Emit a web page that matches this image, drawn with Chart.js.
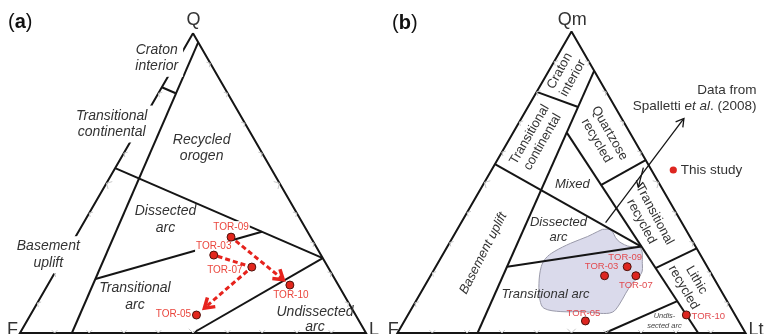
<!DOCTYPE html>
<html>
<head>
<meta charset="utf-8">
<script src="https://cdn.jsdelivr.net/npm/chart.js@4.4.1/dist/chart.umd.min.js"></script>
<style>
  html, body { margin: 0; padding: 0; background: #fff; }
  #wrap { position: relative; width: 764px; height: 334px; overflow: hidden; }
  canvas { position: absolute; top: 0; }
  #qfl { left: 0; }
  #qmflt { left: 382px; }
</style>
</head>
<body>
<div id="wrap">
  <canvas id="qfl" width="382" height="334"></canvas>
  <canvas id="qmflt" width="382" height="334"></canvas>
</div>
<script>
// ---- data ----------------------------------------------------------------
const samples = ['TOR-03', 'TOR-05', 'TOR-07', 'TOR-09', 'TOR-10'];

// QFL composition (%)
const qflQ = [26, 6, 22, 32, 16];
const qflF = [31, 46, 22, 23, 14];
const qflL = [43, 48, 56, 45, 70];

// QmFLt composition (%)
const qmQm = [19, 4, 19, 22, 6];
const qmF  = [31, 44, 22, 23, 14];
const qmLt = [50, 52, 59, 55, 80];

// outline of the Spalletti et al. (2008) field, QmFLt (%)
const spalQm = [34.4, 34.2, 30.9, 28.9, 28.1, 23.1, 19.8, 16.5, 13.2, 9.3, 6.9, 6.5,
                7.1, 7.1, 8.2, 10.9, 16.5, 22.0, 24.8, 27.0, 29.8, 32.0, 33.6];
const spalLt = [41.7, 44.2, 47.7, 51.6, 55.8, 58.8, 60.2, 59.2, 59.0, 59.0, 58.3, 55.1,
                50.1, 43.4, 38.0, 35.5, 32.4, 30.3, 30.2, 31.5, 34.9, 38.6, 40.6];

// provenance field boundaries (Dickinson), vertices as [top, F, right] in %
const qflFields = [
  [[100, 0, 0], [0, 100, 0], [0, 0, 100], [100, 0, 0]],
  [[97, 0, 3], [0, 85, 15]],
  [[82, 18, 0], [80, 15, 5]],
  [[55, 45, 0], [25, 0, 75]],
  [[18, 69.2, 12.8], [33.8, 13.2, 53]],
  [[0, 50, 50], [25, 0, 75]]
];
const qmfltFields = [
  [[100, 0, 0], [0, 100, 0], [0, 0, 100], [100, 0, 0]],
  [[87, 0, 13], [0, 77, 23]],
  [[80, 20, 0], [75, 10.6, 14.4]],
  [[56, 44, 0], [28.7, 15.6, 55.7]],
  [[66.5, 18.1, 15.4], [0, 13.6, 86.4]],
  [[49.1, 17, 33.9], [57.4, 0, 42.6]],
  [[21.5, 15.1, 63.4], [28.1, 0, 71.9]],
  [[22, 57.5, 20.5], [28.7, 15.6, 55.7]],
  [[0, 40.4, 59.6], [10.6, 14.3, 75.1]]
];

// trend between samples on the QFL plot: from, to, arrowhead
const qflTrend = [['TOR-09', 'TOR-10', true], ['TOR-03', 'TOR-07', false], ['TOR-07', 'TOR-05', true]];

// pointers from the Spalletti field to its caption, [Qm, Lt] ends
const spalPointers = [[[36.6, 41.5], [71.2, 46.7]], [[54.9, 43.2], [48.4, 45.0]]];

// edge ticks (%)
const tickSteps = [10, 20, 30, 40, 50, 60, 70, 80, 90];

// ---- helpers -------------------------------------------------------------
const R3 = Math.sqrt(3) / 2;
function tern(top, right) { return { x: right + top / 2, y: top * R3 }; }

const FONT = '"Liberation Sans", Arial, sans-serif';
function fnt(size, style) { return (style ? style + ' ' : '') + size + 'px ' + FONT; }

function pix(chart, p) {
  return { x: chart.scales.x.getPixelForValue(p.x), y: chart.scales.y.getPixelForValue(p.y) };
}

function drawLabel(chart, t) {
  const ctx = chart.ctx;
  const c = pix(chart, { x: t.at[0], y: t.at[1] });
  ctx.save();
  ctx.translate(c.x, c.y);
  if (t.rot) ctx.rotate(t.rot * Math.PI / 180);
  ctx.textBaseline = t.base || 'middle';
  ctx.fillStyle = t.color || '#333';
  if (t.runs) {
    let w = 0;
    t.runs.forEach(r => { ctx.font = r[1]; w += ctx.measureText(r[0]).width; });
    let x = t.align === 'right' ? -w : 0;
    ctx.textAlign = 'left';
    t.runs.forEach(r => { ctx.font = r[1]; ctx.fillText(r[0], x, 0); x += ctx.measureText(r[0]).width; });
    ctx.restore();
    return;
  }
  const lines = t.text.split('\n');
  const lh = t.lh || 16;
  ctx.font = t.font;
  ctx.textAlign = t.align || 'center';
  if (t.bg) {
    const w = Math.max(...lines.map(s => ctx.measureText(s).width));
    const h = lines.length * lh;
    ctx.fillStyle = '#fff';
    ctx.fillRect(-w / 2 - t.bg[0], -h / 2 - t.bg[1], w + 2 * t.bg[0], h + 2 * t.bg[1]);
    ctx.fillStyle = t.color || '#333';
  }
  lines.forEach((s, i) => ctx.fillText(s, 0, (i - (lines.length - 1) / 2) * lh));
  ctx.restore();
}

function drawArrow(ctx, a, b, o) {
  const dx = b.x - a.x, dy = b.y - a.y, len = Math.hypot(dx, dy);
  const ux = dx / len, uy = dy / len;
  const s = { x: a.x + ux * o.gap0, y: a.y + uy * o.gap0 };
  const e = { x: b.x - ux * o.gap1, y: b.y - uy * o.gap1 };
  ctx.save();
  ctx.strokeStyle = o.color;
  ctx.lineWidth = o.width;
  ctx.setLineDash(o.dash || []);
  ctx.beginPath(); ctx.moveTo(s.x, s.y); ctx.lineTo(e.x, e.y); ctx.stroke();
  if (o.head) {
    ctx.setLineDash([]);
    ctx.lineWidth = o.headWidth;
    ctx.lineJoin = 'miter';
    const ang = o.headAngle * Math.PI / 180;
    const bx = -ux, by = -uy;
    const p1 = { x: e.x + o.headLen * (bx * Math.cos(ang) - by * Math.sin(ang)), y: e.y + o.headLen * (bx * Math.sin(ang) + by * Math.cos(ang)) };
    const p2 = { x: e.x + o.headLen * (bx * Math.cos(-ang) - by * Math.sin(-ang)), y: e.y + o.headLen * (bx * Math.sin(-ang) + by * Math.cos(-ang)) };
    ctx.beginPath(); ctx.moveTo(p1.x, p1.y); ctx.lineTo(e.x, e.y); ctx.lineTo(p2.x, p2.y); ctx.stroke();
  }
  ctx.restore();
}

function drawTicks(chart) {
  const ctx = chart.ctx;
  const edges = [
    { at: s => tern(0, s), n: [0, -1] },
    { at: s => tern(s, 0), n: [R3, 0.5] },
    { at: s => tern(s, 100 - s), n: [-R3, 0.5] }
  ];
  const a = Math.PI / 4;
  ctx.save();
  ctx.strokeStyle = '#c8c8c8';
  ctx.lineWidth = 1;
  edges.forEach(e => tickSteps.forEach(s => {
    const c = pix(chart, e.at(s));
    const len = s === 50 ? 6 : 4;
    const [nx, ny] = e.n;
    const r1 = [nx * Math.cos(a) - ny * Math.sin(a), nx * Math.sin(a) + ny * Math.cos(a)];
    const r2 = [nx * Math.cos(-a) - ny * Math.sin(-a), nx * Math.sin(-a) + ny * Math.cos(-a)];
    ctx.beginPath();
    ctx.moveTo(c.x + r1[0] * len, c.y + r1[1] * len);
    ctx.lineTo(c.x, c.y);
    ctx.lineTo(c.x + r2[0] * len, c.y + r2[1] * len);
    ctx.stroke();
  }));
  ctx.restore();
}

// ---- chart builder -------------------------------------------------------
function ternChart(id, cfg) {
  const canvas = document.getElementById(id);
  const k = cfg.side / 100;
  const datasets = [{
    data: cfg.points,
    showLine: false,
    pointRadius: 4,
    pointBackgroundColor: cfg.dotColor,
    pointBorderColor: '#4d120c',
    pointBorderWidth: 1,
    clip: false
  }];
  cfg.fields.forEach(f => datasets.push({
    data: f.map(p => tern(p[0], p[2])),
    showLine: true,
    borderColor: '#151515',
    borderWidth: 2,
    pointRadius: 0,
    fill: false,
    clip: false
  }));
  if (cfg.shape) datasets.push({
    data: cfg.shape,
    showLine: true,
    tension: 0.35,
    fill: 'shape',
    backgroundColor: '#dadaeb',
    borderColor: '#9a9aaa',
    borderWidth: 1,
    pointRadius: 0,
    clip: false
  });

  // labels, trend arrows and legend go on after the field lines, under the sample dots
  const overlay = {
    id: 'ternOverlay',
    afterDatasetDraw(chart, args) {
      if (args.index !== 1) return;
      const ctx = chart.ctx;
      drawTicks(chart);
      cfg.text.forEach(t => drawLabel(chart, t));
      cfg.points.forEach((p, i) => {
        const off = cfg.tagOffset[samples[i]];
        const c = pix(chart, p);
        const name = samples[i];
        const x = c.x + off[0], y = c.y + off[1];
        ctx.save();
        ctx.font = fnt(cfg.tagSize); ctx.textAlign = 'center'; ctx.textBaseline = 'middle';
        if (cfg.tagBg) {
          const w = ctx.measureText(name).width;
          ctx.fillStyle = '#fff';
          ctx.fillRect(x - w / 2 - 1, y - 6, w + 2, 12);
        }
        ctx.fillStyle = cfg.tagColor;
        ctx.fillText(name, x, y);
        ctx.restore();
      });
      (cfg.arrows || []).forEach(ar => drawArrow(ctx, pix(chart, ar.from), pix(chart, ar.to), ar.style));
      if (cfg.legend) {
        const d = pix(chart, { x: cfg.legend.at[0], y: cfg.legend.at[1] });
        ctx.save();
        ctx.fillStyle = cfg.dotColor;
        ctx.beginPath(); ctx.arc(d.x, d.y, 3.6, 0, Math.PI * 2); ctx.fill();
        ctx.restore();
      }
    }
  };

  return new Chart(canvas, {
    type: 'scatter',
    data: { datasets },
    options: {
      responsive: false,
      animation: false,
      events: [],
      layout: { padding: 0, autoPadding: false },
      plugins: { legend: { display: false }, tooltip: { enabled: false } },
      scales: {
        x: { type: 'linear', display: false, min: -cfg.fx / k, max: (canvas.width - cfg.fx) / k },
        y: { type: 'linear', display: false, min: -(canvas.height - cfg.base) / k, max: cfg.base / k }
      }
    },
    plugins: [overlay]
  });
}

// ---- (a) QFL -------------------------------------------------------------
const qflPts = samples.map((s, i) => tern(qflQ[i], qflL[i]));
const trendStyle = { color: '#e6231d', width: 3, dash: [5, 3], headWidth: 3.5, headLen: 11, headAngle: 33 };
const qflArrows = qflTrend.map(([a, b, head]) => ({
  from: qflPts[samples.indexOf(a)],
  to: qflPts[samples.indexOf(b)],
  style: Object.assign({}, trendStyle, head ? { head: true, gap0: 6, gap1: 8.5 } : { head: false, gap0: 4, gap1: 4 })
}));
qflArrows[2].style.gap1 = 10.5;

ternChart('qfl', {
  fx: 20, side: 346, base: 333,
  points: qflPts,
  fields: qflFields,
  dotColor: '#e2261c',
  tagColor: '#ea463d', tagSize: 10, tagBg: true,
  tagOffset: { 'TOR-09': [0, -10], 'TOR-03': [0, -9], 'TOR-07': [-27, 3], 'TOR-10': [1, 10], 'TOR-05': [-23, -1] },
  arrows: qflArrows,
  text: [
    { text: 'Q', at: [50.14, 90.46], font: fnt(18) },
    { text: 'F', at: [-2.17, -0.58], font: fnt(18), base: 'alphabetic' },
    { text: 'L', at: [102.31, -0.58], font: fnt(18), base: 'alphabetic' },
    { runs: [['(', fnt(20)], ['a', fnt(20, 'bold')], [')', fnt(20)]], at: [-3.47, 89.6], color: '#111' },
    { text: 'Craton\ninterior', at: [39.51, 79.39], font: fnt(14, 'italic'), lh: 16.5, bg: [5, 2] },
    { text: 'Transitional\ncontinental', at: [26.5, 60.4], font: fnt(14, 'italic'), lh: 16.5, bg: [5, 2] },
    { text: 'Recycled\norogen', at: [52.5, 53.4], font: fnt(14, 'italic'), lh: 16.5 },
    { text: 'Dissected\narc', at: [42.05, 32.75], font: fnt(14, 'italic'), lh: 16.5 },
    { text: 'Basement\nuplift', at: [8.18, 22.63], font: fnt(14, 'italic'), lh: 16.5, bg: [5, 2] },
    { text: 'Transitional\narc', at: [33.24, 10.49], font: fnt(14, 'italic'), lh: 16.5 },
    { text: 'Undissected\narc', at: [85.26, 3.84], font: fnt(14, 'italic'), lh: 14.5 }
  ]
});

// ---- (b) QmFLt -----------------------------------------------------------
const qmPts = samples.map((s, i) => tern(qmQm[i], qmLt[i]));
const spalShape = spalQm.map((q, i) => tern(q, spalLt[i]));
spalShape.push(spalShape[0]);
const pointerStyle = { color: '#151515', width: 1.3, head: true, headWidth: 1.3, headAngle: 30, gap0: 0, gap1: 0 };

ternChart('qmflt', {
  fx: 15.5, side: 348, base: 333,
  points: qmPts,
  fields: qmfltFields,
  shape: spalShape,
  dotColor: '#dd2620',
  tagColor: '#e24a4f', tagSize: 9.5, tagBg: false,
  tagOffset: { 'TOR-09': [-2, -9], 'TOR-03': [-3, -9], 'TOR-07': [0, 10], 'TOR-10': [22, 1.5], 'TOR-05': [-2, -8] },
  arrows: spalPointers.map((p, i) => ({
    from: tern(p[0][0], p[0][1]),
    to: tern(p[1][0], p[1][1]),
    style: Object.assign({}, pointerStyle, { headLen: i === 0 ? 9 : 7 })
  })),
  legend: { at: [79.25, 46.84] },
  text: [
    { text: 'Qm', at: [50.23, 89.94], font: fnt(18) },
    { text: 'F', at: [-1.2, -0.57], font: fnt(18), base: 'alphabetic' },
    { text: 'Lt', at: [103.02, -0.57], font: fnt(18), base: 'alphabetic' },
    { runs: [['(', fnt(20)], ['b', fnt(20, 'bold')], [')', fnt(20)]], at: [-1.58, 89.08], color: '#111' },
    { text: 'Craton\ninterior', at: [48.51, 74.28], font: fnt(13), lh: 15, rot: -61 },
    { text: 'Transitional\ncontinental', at: [39.8, 55.95], font: fnt(13), lh: 15, rot: -60 },
    { text: 'Quartzose\nrecycled', at: [59.05, 56.32], font: fnt(13), lh: 15, rot: 60 },
    { text: 'Mixed', at: [50.23, 42.73], font: fnt(13, 'italic') },
    { text: 'Dissected\narc', at: [46.26, 29.6], font: fnt(13, 'italic'), lh: 15 },
    { text: 'Basement uplift', at: [24.66, 22.9], font: fnt(13, 'italic'), rot: -63 },
    { text: 'Transitional arc', at: [42.53, 11.21], font: fnt(13, 'italic') },
    { text: 'Transitional\nrecycled', at: [71.98, 33.05], font: fnt(13), lh: 15, rot: 62 },
    { text: 'Lithic\nrecycled', at: [84.05, 14.14], font: fnt(13), lh: 15, rot: 60 },
    { text: 'Undis-\nsected arc', at: [76.72, 3.45], font: fnt(7.5, 'italic'), lh: 10, color: '#444' },
    { text: 'Data from', at: [103.16, 69.83], font: fnt(13.5), align: 'right' },
    { runs: [['Spalletti ', fnt(13.5)], ['et al', fnt(13.5, 'italic')], ['. (2008)', fnt(13.5)]], at: [103.16, 65.03], align: 'right' },
    { text: 'This study', at: [81.38, 46.84], font: fnt(13.5), align: 'left' }
  ]
});
</script>
</body>
</html>
